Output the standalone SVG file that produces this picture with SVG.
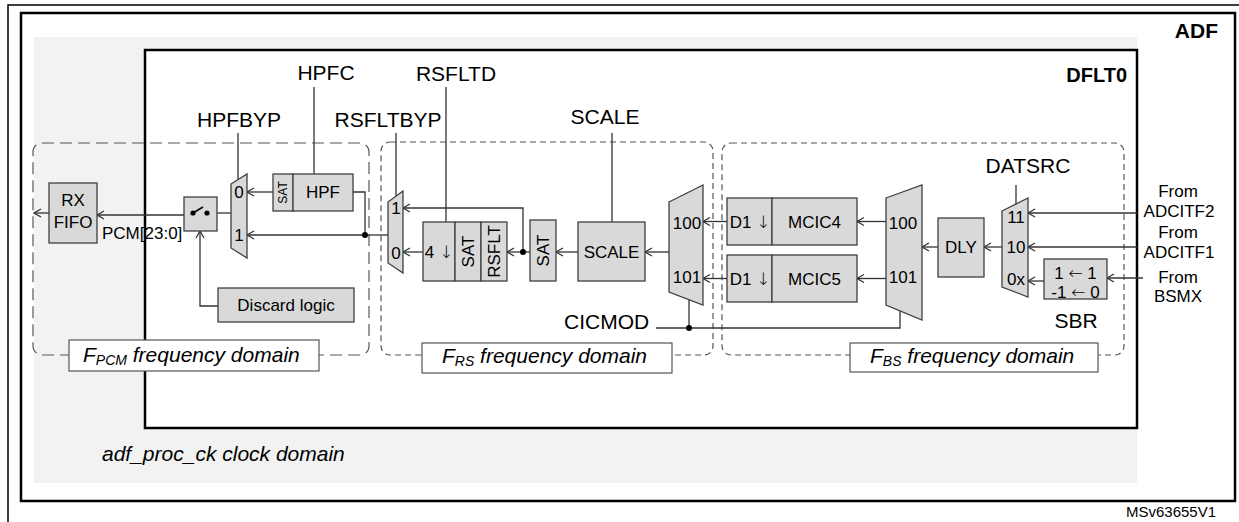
<svg xmlns="http://www.w3.org/2000/svg" width="1239" height="522" viewBox="0 0 1239 522">
<defs>
<style>
.blk{fill:#d9d9d9;stroke:#404040;stroke-width:1.3}
.ln{fill:none;stroke:#333;stroke-width:1.3}
.arr{marker-end:url(#ah)}
.t{font-family:"Liberation Sans",Arial,"DejaVu Sans",sans-serif;fill:#000}
.g{font-family:"DejaVu Sans",sans-serif;font-weight:200}
.s17{font-size:17px}
.s21{font-size:21px}
.m{text-anchor:middle}
.dom{fill:none;stroke:#555;stroke-width:1.2}
.lbl{fill:#fff;stroke:#555;stroke-width:1.2}
.it{font-style:italic;font-size:21px}
</style>
<marker id="ah" viewBox="-9 -6 11 12" markerWidth="11" markerHeight="12" refX="0" refY="0" orient="auto" markerUnits="userSpaceOnUse" overflow="visible">
<path d="M-7,-4 L0,0 L-7,4" fill="none" stroke="#333" stroke-width="1.3"/>
</marker>
</defs>

<g id="frames">
<rect x="8" y="5" width="1260" height="560" fill="#fff" stroke="#000" stroke-width="1.5"/>
<rect x="21" y="13" width="1214" height="488" fill="#fff" stroke="#000" stroke-width="2.5"/>
<rect x="34" y="37" width="1103" height="446" fill="#f2f2f2"/>
<rect x="145" y="50" width="992" height="378" fill="#fff" stroke="#000" stroke-width="2.5"/>
<text class="t" x="1218" y="38" font-size="21" font-weight="bold" text-anchor="end">ADF</text>
<text class="t" x="1127" y="82" font-size="20" font-weight="bold" text-anchor="end">DFLT0</text>
<text class="t it" x="102" y="461">adf_proc_ck clock domain</text>
<text class="t" x="1126" y="517" font-size="15">MSv63655V1</text>
</g>

<g id="domains">
<rect class="dom" x="33" y="143" width="336" height="212" rx="9" stroke-dasharray="12 6"/>
<rect class="dom" x="381" y="142" width="332" height="213" rx="9" stroke-dasharray="6 4"/>
<rect class="dom" x="722" y="143" width="402" height="212" rx="9" stroke-dasharray="6 4"/>
</g>

<g id="connectors">
<line class="ln arr" x1="49" y1="213" x2="34" y2="213"/>
<line class="ln arr" x1="184" y1="215" x2="97" y2="215"/>
<line class="ln" x1="231" y1="213" x2="217" y2="213"/>
<polyline class="ln arr" points="218,306 200,306 200,231"/>
<line class="ln arr" x1="273" y1="192" x2="247" y2="192"/>
<polyline class="ln" points="353,192 365,192 365,235"/>
<line class="ln arr" x1="365" y1="235" x2="247" y2="235"/>
<line class="ln" x1="388" y1="235" x2="365" y2="235"/>
<circle cx="365" cy="235" r="3" fill="#000"/>
<line class="ln arr" x1="423" y1="252" x2="403" y2="252"/>
<line class="ln arr" x1="530" y1="252" x2="507" y2="252"/>
<polyline class="ln arr" points="523,252 523,208 403,208"/>
<circle cx="523" cy="252" r="3" fill="#000"/>
<line class="ln arr" x1="578" y1="252" x2="556" y2="252"/>
<line class="ln arr" x1="669" y1="252" x2="645" y2="252"/>
<line class="ln arr" x1="727" y1="221.5" x2="703" y2="221.5"/>
<line class="ln arr" x1="727" y1="278.5" x2="703" y2="278.5"/>
<line class="ln arr" x1="886" y1="221.5" x2="857" y2="221.5"/>
<line class="ln arr" x1="886" y1="278.5" x2="857" y2="278.5"/>
<line class="ln arr" x1="938" y1="247" x2="922" y2="247"/>
<line class="ln arr" x1="1002" y1="247" x2="984" y2="247"/>
<line class="ln arr" x1="1137" y1="213" x2="1028" y2="213"/>
<line class="ln arr" x1="1137" y1="247" x2="1028" y2="247"/>
<line class="ln arr" x1="1143" y1="278" x2="1107" y2="278"/>
<line class="ln arr" x1="1044" y1="281" x2="1028" y2="281"/>
<line class="ln" x1="314" y1="87" x2="314" y2="174"/>
<line class="ln" x1="238" y1="133" x2="238" y2="179.6"/>
<line class="ln" x1="396" y1="133" x2="396" y2="196"/>
<line class="ln" x1="446" y1="87" x2="446" y2="222"/>
<line class="ln" x1="612" y1="133" x2="612" y2="222"/>
<line class="ln" x1="1016" y1="185" x2="1016" y2="204"/>
<polyline class="ln" points="656,328 900,328 900,310.8"/>
<line class="ln" x1="689" y1="328" x2="689" y2="299.6"/>
<circle cx="689" cy="328" r="3" fill="#000"/>
</g>

<g id="ctl-labels">
<text class="t s21 m" x="326" y="80">HPFC</text>
<text class="t s21 m" x="239" y="127">HPFBYP</text>
<text class="t s21 m" x="388" y="127">RSFLTBYP</text>
<text class="t s21 m" x="456" y="81">RSFLTD</text>
<text class="t s21 m" x="605" y="124">SCALE</text>
<text class="t s21" x="564" y="329">CICMOD</text>
<text class="t s21 m" x="1028" y="173">DATSRC</text>
</g>

<g id="rxfifo">
<rect class="blk" x="49" y="183" width="48" height="60"/>
<text class="t s17 m" x="73" y="206">RX</text>
<text class="t s17 m" x="73" y="228">FIFO</text>
<text class="t s17" x="102" y="239">PCM[23:0]</text>
</g>

<g id="switch">
<rect class="blk" x="184" y="197" width="33" height="34"/>
<circle cx="193" cy="213" r="2.6" fill="#000"/>
<circle cx="207" cy="213" r="2.6" fill="#000"/>
<line x1="193" y1="213" x2="203" y2="207" stroke="#000" stroke-width="1.5"/>
</g>

<g id="discard">
<rect class="blk" x="218" y="288" width="136" height="34"/>
<text class="t s17 m" x="286" y="311">Discard logic</text>
</g>

<g id="mux-hpfbyp">
<polygon class="blk" points="231,184 247,174 247,258 231,248"/>
<text class="t s17 m" x="239" y="198">0</text>
<text class="t s17 m" x="239" y="241">1</text>
</g>

<g id="hpf">
<rect class="blk" x="273" y="174" width="20" height="37"/>
<rect class="blk" x="293" y="174" width="60" height="37"/>
<text class="t m" font-size="12" transform="translate(283,192.5) rotate(-90)" dy="0.35em">SAT</text>
<text class="t s17 m" x="323" y="198">HPF</text>
</g>

<g id="mux-rsfltbyp">
<polygon class="blk" points="388,202 403,191 403,273 388,263"/>
<text class="t s17 m" x="396" y="214">1</text>
<text class="t s17 m" x="396" y="259">0</text>
</g>

<g id="rsflt">
<rect class="blk" x="423" y="222" width="32" height="59"/>
<rect class="blk" x="455" y="222" width="26" height="59"/>
<rect class="blk" x="481" y="222" width="26" height="59"/>
<text class="t s17 m" x="439" y="258">4 <tspan class="g">↓</tspan></text>
<text class="t s17 m" transform="translate(468,251.5) rotate(-90)" dy="0.35em">SAT</text>
<text class="t s17 m" transform="translate(494,251.5) rotate(-90)" dy="0.35em">RSFLT</text>
</g>

<g id="sat2">
<rect class="blk" x="530" y="220" width="26" height="61"/>
<text class="t s17 m" transform="translate(543,250.5) rotate(-90)" dy="0.35em">SAT</text>
</g>

<g id="scale">
<rect class="blk" x="578" y="222" width="67" height="59"/>
<text class="t s17 m" x="611.5" y="258">SCALE</text>
</g>

<g id="mux-cic1">
<polygon class="blk" points="669,202 703,185 703,305 669,292"/>
<text class="t s17 m" x="687" y="229">100</text>
<text class="t s17 m" x="687" y="283">101</text>
</g>

<g id="mcic4">
<rect class="blk" x="727" y="198" width="45" height="47"/>
<rect class="blk" x="772" y="198" width="85" height="47"/>
<text class="t s17 m" x="750" y="228">D1 <tspan class="g">↓</tspan></text>
<text class="t s17 m" x="814.5" y="228">MCIC4</text>
</g>

<g id="mcic5">
<rect class="blk" x="727" y="255" width="45" height="47"/>
<rect class="blk" x="772" y="255" width="85" height="47"/>
<text class="t s17 m" x="750" y="285">D1 <tspan class="g">↓</tspan></text>
<text class="t s17 m" x="814.5" y="285">MCIC5</text>
</g>

<g id="mux-cic2">
<polygon class="blk" points="886,198 922,185 922,320 886,305"/>
<text class="t s17 m" x="903" y="229">100</text>
<text class="t s17 m" x="903" y="283">101</text>
</g>

<g id="dly">
<rect class="blk" x="938" y="218" width="46" height="59"/>
<text class="t s17 m" x="961" y="253">DLY</text>
</g>

<g id="mux-datsrc">
<polygon class="blk" points="1002,211 1028,198 1028,297 1002,287"/>
<text class="t s17 m" x="1016" y="223">11</text>
<text class="t s17 m" x="1016" y="253">10</text>
<text class="t s17 m" x="1016" y="285">0x</text>
</g>

<g id="sbr">
<rect class="blk" x="1044" y="259" width="63" height="40"/>
<text class="t s17 m" x="1075.5" y="279">1 <tspan class="g">←</tspan> 1</text>
<text class="t s17 m" x="1075.5" y="298">-1 <tspan class="g">←</tspan> 0</text>
<text class="t s21 m" x="1076" y="328">SBR</text>
</g>

<g id="inputs">
<text class="t s17 m" x="1178" y="197">From</text>
<text class="t s17 m" x="1179" y="217">ADCITF2</text>
<text class="t s17 m" x="1178" y="238">From</text>
<text class="t s17 m" x="1179" y="258">ADCITF1</text>
<text class="t s17 m" x="1178" y="283">From</text>
<text class="t s17 m" x="1178" y="302">BSMX</text>
</g>

<g id="domain-labels">
<rect class="lbl" x="69" y="340" width="250" height="31"/>
<text class="t it" x="83" y="362">F<tspan font-size="14" dy="3">PCM</tspan><tspan dy="-3"> frequency domain</tspan></text>
<rect class="lbl" x="422" y="343" width="250" height="30"/>
<text class="t it" x="442" y="363">F<tspan font-size="14" dy="3">RS</tspan><tspan dy="-3"> frequency domain</tspan></text>
<rect class="lbl" x="850" y="343" width="248" height="29"/>
<text class="t it" x="870" y="363">F<tspan font-size="14" dy="3">BS</tspan><tspan dy="-3"> frequency domain</tspan></text>
</g>
</svg>
